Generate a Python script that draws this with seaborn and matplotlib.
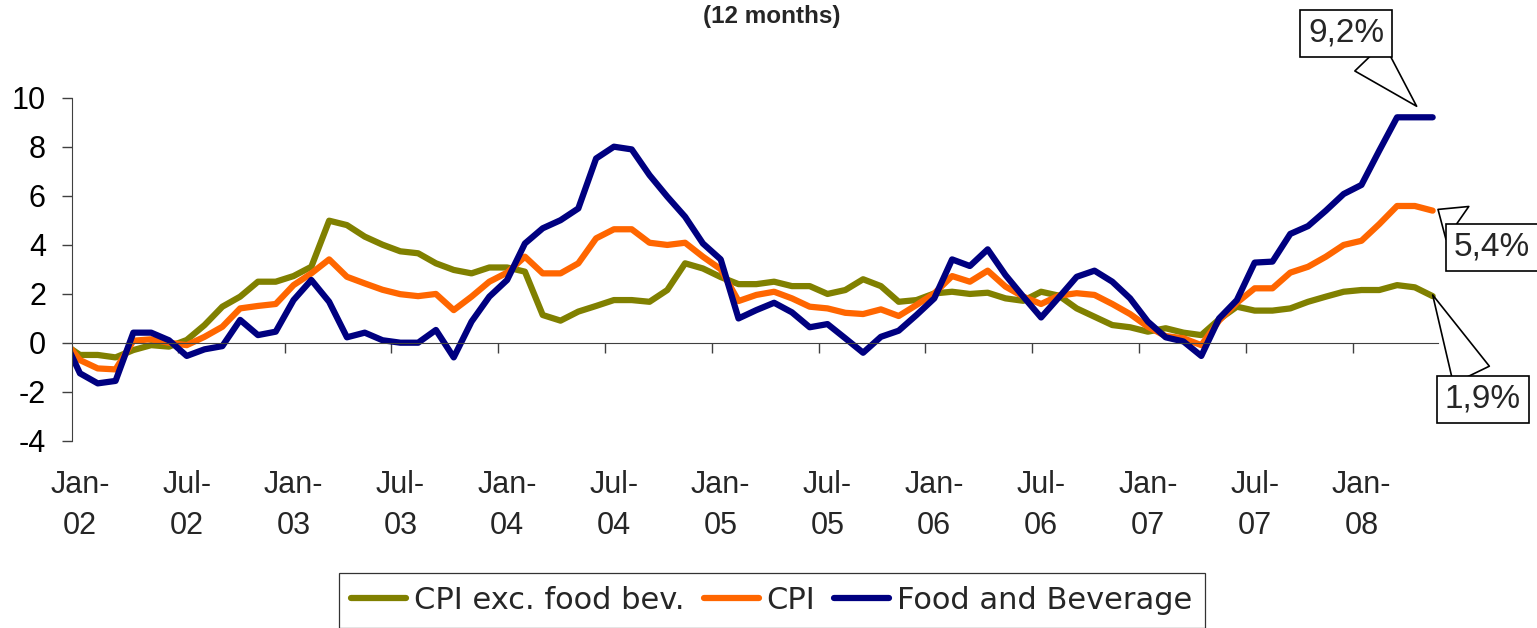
import numpy as np
import pandas as pd
import matplotlib
matplotlib.use("Agg")
import matplotlib.pyplot as plt
import seaborn as sns

# monthly data, Dec-01 .. May-08 (Dec-01 only enters at the left edge)
months = pd.period_range("2001-12", "2008-05", freq="M")

core = [0.0,
        -0.5, -0.5, -0.6, -0.3, -0.1, -0.16, 0.11, 0.72, 1.47, 1.88, 2.49, 2.49,
        2.72, 3.1, 4.98, 4.8, 4.33, 4.0, 3.73, 3.65, 3.24, 2.97, 2.83, 3.07,
        3.07, 2.9, 1.13, 0.9, 1.27, 1.5, 1.74, 1.74, 1.67, 2.15, 3.24, 3.03,
        2.68, 2.39, 2.39, 2.49, 2.31, 2.31, 1.99, 2.15, 2.59, 2.31, 1.67, 1.74,
        2.01, 2.08, 1.99, 2.04, 1.81, 1.71, 2.08, 1.92, 1.4, 1.06, 0.72, 0.63,
        0.45, 0.59, 0.41, 0.31, 0.95, 1.47, 1.31, 1.31, 1.4, 1.67, 1.88, 2.08,
        2.15, 2.15, 2.35, 2.26, 1.9]

cpi = [0.2,
       -0.71, -1.05, -1.09, 0.08, 0.14, 0.0, -0.1, 0.24, 0.65, 1.4, 1.5, 1.58,
       2.35, 2.83, 3.4, 2.69, 2.42, 2.16, 1.98, 1.9, 1.99, 1.33, 1.88, 2.49,
       2.86, 3.51, 2.83, 2.83, 3.24, 4.26, 4.63, 4.63, 4.08, 3.99, 4.08, 3.51,
       3.0, 1.7, 1.95, 2.08, 1.81, 1.47, 1.4, 1.22, 1.17, 1.36, 1.09, 1.54,
       2.01, 2.72, 2.49, 2.94, 2.29, 1.88, 1.58, 1.92, 2.02, 1.95, 1.58, 1.17,
       0.65, 0.27, 0.18, -0.1, 0.9, 1.63, 2.22, 2.22, 2.86, 3.1, 3.51, 3.99,
       4.16, 4.84, 5.58, 5.58, 5.39]

food = [0.3,
        -1.25, -1.66, -1.56, 0.41, 0.41, 0.1, -0.54, -0.27, -0.14, 0.93, 0.31, 0.45,
        1.74, 2.56, 1.67, 0.22, 0.41, 0.1, 0.0, 0.0, 0.52, -0.6, 0.86, 1.88,
        2.56, 4.05, 4.67, 5.0, 5.48, 7.52, 8.0, 7.89, 6.84, 5.96, 5.14, 4.05,
        3.4, 0.99, 1.33, 1.63, 1.24, 0.63, 0.76, 0.18, -0.41, 0.24, 0.49, 1.13,
        1.81, 3.4, 3.13, 3.81, 2.76, 1.88, 1.03, 1.85, 2.69, 2.94, 2.49, 1.81,
        0.86, 0.22, 0.05, -0.54, 0.99, 1.74, 3.27, 3.31, 4.44, 4.76, 5.39, 6.07,
        6.44, 7.84, 9.2, 9.2, 9.2]

series_names = ["CPI exc. food bev.", "CPI", "Food and Beverage"]
colors = ["#808000", "#FF6600", "#000080"]
end_labels = ["1,9%", "5,4%", "9,2%"]

# position 0 = Jan-02
pos = np.arange(len(months)) - 1

df = pd.concat([
    pd.DataFrame({"pos": pos, "value": vals, "series": name})
    for name, vals in zip(series_names, [core, cpi, food])
])

sns.set_style("white")
plt.rcParams["font.family"] = ["Liberation Sans", "DejaVu Sans"]
plt.rcParams["axes.unicode_minus"] = False

W, H = 1537, 628
fig = plt.figure(figsize=(W / 100, H / 100), dpi=100)
ax = fig.add_axes([72.3 / W, (H - 440.7) / H, (1438 - 72.3) / W, (440.7 - 97.7) / H])

sns.lineplot(data=df, x="pos", y="value", hue="series", hue_order=series_names,
             palette=colors, linewidth=4.5, ax=ax, sort=False,
             solid_capstyle="round", solid_joinstyle="round")

ax.set_xlim(-0.43, 76.3)
ax.set_ylim(-4, 10)
ax.set_yticks(np.arange(-4, 11, 2))
ax.set_xlabel("")
ax.set_ylabel("")

axis_col = "#404040"
for s in ["top", "right"]:
    ax.spines[s].set_visible(False)
ax.spines["left"].set_color(axis_col)
ax.spines["bottom"].set_color(axis_col)
ax.spines["bottom"].set_position(("data", 0))

# tick marks between categories on the zero line, labels at the bottom
ax.set_xticks(np.arange(6, 78, 6) - 0.5)
ax.tick_params(axis="x", bottom=True, direction="out", length=7, width=1,
               color=axis_col, labelbottom=False)
ax.tick_params(axis="y", left=True, direction="out", length=7, width=1,
               color=axis_col, pad=12, labelsize=22, labelcolor="black")

label_pos = np.arange(0, 77, 6)
label_txt = [m.strftime("%b-\n%y") for m in months[label_pos + 1]]
sec = ax.secondary_xaxis("bottom")
sec.set_xticks(label_pos, labels=label_txt)
sec.tick_params(length=0, pad=21, labelsize=22)
sec.spines["bottom"].set_visible(False)
for t in sec.get_xticklabels():
    t.set_linespacing(1.5)

# legend
handles, labels = ax.get_legend_handles_labels()
ax.get_legend().remove()
leg = fig.legend(handles, labels, loc="upper center", bbox_to_anchor=(772 / W, 1 - 573 / H),
                 ncol=3, frameon=True, fancybox=False, edgecolor="black",
                 prop={"family": "DejaVu Sans", "size": 22},
                 handlelength=1.8, handletextpad=0.26, columnspacing=0.62,
                 borderpad=0.42, borderaxespad=0)
leg.get_frame().set_linewidth(0.9)
for h in leg.legend_handles:
    h.set_linewidth(4.5)

fig.text(772 / W, 1 - 17 / H, "(12 months)", ha="center", va="center",
         fontsize=17.5, fontweight="bold")

# end-value callouts
last_x = pos[-1]
callouts = [
    (end_labels[0], (last_x, core[-1] + 0.05), (1483, H - 399)),
    (end_labels[1], (last_x + 0.3, cpi[-1] + 0.05), (1492, H - 247)),
    (end_labels[2], (last_x - 0.9, food[-1] + 0.45), (1346, H - 33)),
]
for txt, xy, xytext in callouts:
    ax.annotate(txt, xy=xy, xytext=xytext, textcoords="figure pixels",
                ha="center", va="center", fontsize=24, annotation_clip=False,
                bbox=dict(boxstyle="square,pad=0.24", fc="white", ec="black", lw=1.2),
                arrowprops=dict(arrowstyle="wedge,tail_width=1.2", fc="white",
                                ec="black", lw=1.2, shrinkA=0, shrinkB=0))

fig.savefig("out.png", dpi=100)
